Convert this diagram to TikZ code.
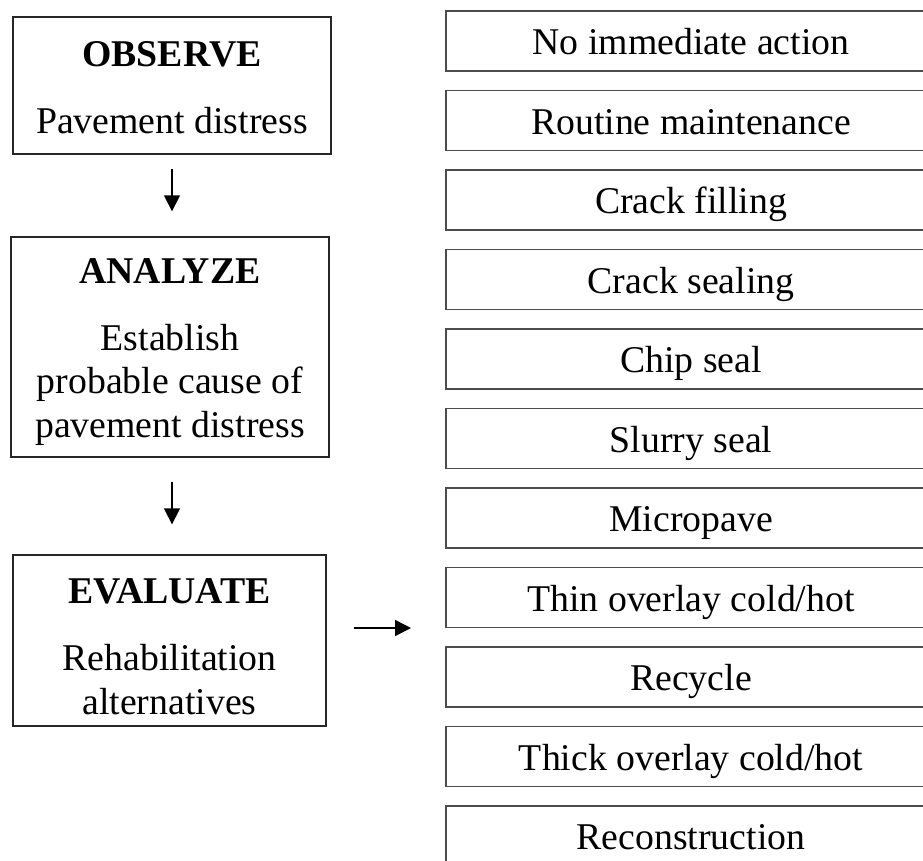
\documentclass[tikz,border=0pt]{standalone}
\usepackage{fontspec}
\setmainfont{Liberation Serif}
\usetikzlibrary{arrows.meta}

\tikzset{
  stagebox/.style={draw=black!85, line width=0.8pt, inner sep=0pt, align=center,
    font=\fontsize{21.5}{25}\selectfont},
  optbox/.style={draw=black!70, line width=0.8pt, inner sep=0pt,
    minimum width=9.8cm, minimum height=1.2cm, text height=20.5pt, text depth=5.1pt,
    font=\fontsize{21.5}{25}\selectfont},
  arr/.style={line width=0.9pt, -{Triangle[length=0.32cm,width=0.32cm]}}
}

\begin{document}
\begin{tikzpicture}[x=0.02cm, y=-0.02cm]

		\useasboundingbox (0,0) rectangle (923,860);
		\clip (0,0) rectangle (923,860);

		%stages
		\node[stagebox, minimum width=6.36cm, minimum height=2.74cm] (obs) at (172,85.5)
			{\rule{0pt}{16.5pt}\textbf{OBSERVE}\\[13pt] Pavement distress};
		\node[stagebox, minimum width=6.36cm, minimum height=4.4cm] (ana) at (170,347)
			{\rule{0pt}{20pt}\textbf{ANALYZE}\\[13pt] Establish\\ probable cause of\\ pavement distress};
		\node[stagebox, minimum width=6.26cm, minimum height=3.42cm] (eva) at (169.5,640.5)
			{\rule{0pt}{21pt}\textbf{EVALUATE}\\[13pt] Rehabilitation\\ alternatives};

		%options
		\foreach \txt [count=\i from 0] in {No immediate action, Routine maintenance,
			Crack filling, Crack sealing, Chip seal, Slurry seal, Micropave,
			Thin overlay cold/hot, Recycle, Thick overlay cold/hot, Reconstruction}
			\node[optbox] (opt\i) at (691,{41+79.5*\i}) {\txt};

		%arrows
		\draw[arr, shorten <=0.28cm, shorten >=0.5cm] (obs.south) -- (obs.south |- ana.north);
		\draw[arr, shorten <=0.48cm, shorten >=0.6cm] (ana.south -| obs.south) -- (eva.north -| obs.south);
		\coordinate (evalout) at (354,628);
		\coordinate (optin) at (411,628);
		\draw[arr] (evalout) -- (optin);

\end{tikzpicture}
\end{document}
